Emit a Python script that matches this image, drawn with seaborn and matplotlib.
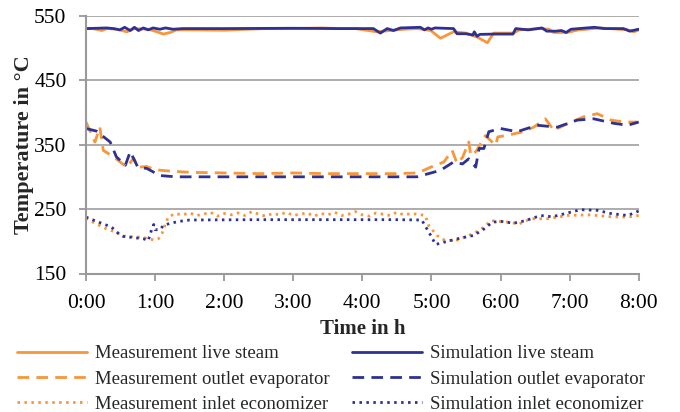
import matplotlib
matplotlib.use("Agg")
import matplotlib.pyplot as plt
import seaborn as sns
import pandas as pd
from matplotlib.lines import Line2D

sns.set_style("white")
plt.rcParams['font.family'] = ['Liberation Serif', 'DejaVu Serif']
plt.rcParams['mathtext.fontset'] = 'stix'

# ---------------- data (time in hours, temperature in degC) ----------------
ml_t = [0, 0.1, 0.23, 0.3, 0.45, 0.59, 0.7, 0.9, 1.0, 1.12, 1.22, 1.31, 1.6, 2.0, 2.23, 2.6, 3.0, 3.4,
        3.68, 3.9, 4.21, 4.4, 4.6, 4.8, 4.99, 5.13, 5.32, 5.5, 5.66, 5.81, 5.9, 6.19, 6.27, 6.58, 6.7,
        6.77, 6.97, 7.13, 7.45, 7.84, 7.93, 8.0]
ml_v = [530, 530, 527, 530, 529, 525, 530, 529, 526, 521.5, 524, 528, 528, 527.5, 528.5, 530, 530, 531,
        530, 530, 525, 527, 529, 530, 527, 515, 525, 523, 517, 508, 523, 523, 528, 530, 529,
        524, 524, 528, 531, 528, 525, 528]

sl_t = [0, 0.3, 0.4, 0.49, 0.56, 0.64, 0.7, 0.76, 0.83, 0.9, 0.97, 1.07, 1.15, 1.26, 1.4, 2.0, 3.0,
        3.68, 4.16, 4.26, 4.36, 4.45, 4.55, 4.84, 4.9, 4.95, 5.0, 5.05, 5.32, 5.37, 5.5, 5.6, 5.62,
        5.66, 5.7, 5.9, 6.18, 6.22, 6.4, 6.6, 6.67, 6.8, 6.88, 6.95, 7.02, 7.36, 7.5, 7.78, 7.87, 8.0]
sl_v = [530, 531, 530, 528, 532, 527, 532, 527, 531, 528, 531, 529, 531, 529, 530, 530, 530.5,
        530, 530, 523, 530, 527, 531, 532, 528, 531, 529, 531, 530, 522, 522, 520, 525,
        518, 521, 521.5, 521.5, 530, 528, 531, 526, 526, 527, 524, 529, 532, 530, 530, 526, 529]

me_t = [0, 0.13, 0.2, 0.25, 0.4, 0.59, 0.69, 0.75, 0.88, 1.0, 1.2, 1.5, 2.0, 2.5, 3.0, 3.5, 4.0, 4.5,
        4.8, 4.99, 5.18, 5.3, 5.37, 5.45, 5.54, 5.57, 5.65, 5.78, 5.93, 5.96, 6.08, 6.33, 6.48, 6.65,
        6.77, 6.92, 7.2, 7.4, 7.6, 7.79, 7.98]
me_v = [385, 354, 377, 341, 331, 315, 329, 315, 316, 311, 309, 307, 306, 305, 306, 305, 305, 305,
        306, 315, 323, 341, 321, 330, 354, 333, 340, 364, 349, 362, 364, 370, 377, 390,
        372, 380, 393, 398, 388, 385, 385]

se_t = [0, 0.15, 0.35, 0.44, 0.57, 0.64, 0.75, 0.88, 1.07, 1.3, 2.0, 3.0, 4.0, 4.79, 5.13, 5.32,
        5.45, 5.54, 5.64, 5.69, 5.76, 5.83, 6.0, 6.24, 6.53, 6.82, 7.11, 7.35, 7.64, 7.84, 8.0]
se_v = [375, 371, 354, 331, 318, 339, 315, 313, 302, 300, 300, 300, 300, 300, 310, 323,
        320, 328, 315, 344, 344, 370, 375, 370, 380, 377, 388, 390, 383, 380, 385]

mc_t = [0, 0.13, 0.3, 0.44, 0.54, 0.83, 0.98, 1.05, 1.1, 1.15, 1.19, 1.29,
        1.4, 1.5, 1.6, 1.7, 1.8, 1.9, 2.0, 2.1, 2.2, 2.3, 2.4, 2.5, 2.6, 2.7, 2.8, 2.9, 3.0,
        3.1, 3.2, 3.3, 3.4, 3.5, 3.6, 3.7, 3.8, 3.9, 4.0, 4.1, 4.2, 4.3, 4.4, 4.5, 4.6, 4.7,
        4.8, 4.91, 4.96, 5.08, 5.2, 5.37, 5.61, 5.72, 5.81, 5.86, 6.08, 6.27, 6.44, 6.68,
        6.97, 7.3, 7.6, 7.84, 8.0]
mc_v = [236, 228, 219, 214, 208, 206, 202, 204, 212, 227, 237.5, 243,
        241, 244, 240, 242, 245, 239, 243, 241, 244, 240, 246, 242, 239, 243, 241, 245, 240,
        242, 244, 239, 243, 241, 245, 240, 242, 246, 241, 239, 244, 242, 240, 245, 241, 243,
        242, 240, 224.5, 209, 201, 202, 212, 219, 227, 232, 230, 227, 235, 235,
        240, 241, 238, 237.5, 240]

sc_t = [0, 0.15, 0.37, 0.47, 0.54, 0.83, 0.9, 0.95, 0.98, 1.0, 1.07, 1.12, 1.22, 1.36, 1.5, 2.5,
        3.5, 4.5, 4.86, 4.99, 5.06, 5.18, 5.42, 5.61, 5.76, 5.88, 6.0, 6.19, 6.36, 6.58, 6.75,
        7.01, 7.16, 7.4, 7.6, 7.84, 8.0]
sc_v = [237.5, 231, 222, 212, 207.5, 204, 201, 218, 226, 218, 218, 224.5, 228, 231, 233, 233.5,
        233.5, 233.5, 233, 209, 195, 198.5, 205, 209, 219, 229.5, 231, 228, 232, 240, 238,
        245, 249, 248, 243, 240, 247]

labels = ["Measurement live steam", "Measurement outlet evaporator", "Measurement inlet economizer",
          "Simulation live steam", "Simulation outlet evaporator", "Simulation inlet economizer"]
y_ticks = [150, 250, 350, 450, 550]
x_ticks = list(range(9))
x_ticklabels = ["0:00", "1:00", "2:00", "3:00", "4:00", "5:00", "6:00", "7:00", "8:00"]

ORANGE = "#F7963A"
BLUE = "#2E3192"
SOLID = "-"
DASH = (0, (4.2, 2.6))
DOT = (0, (0.9, 1.6))
LW = 2.0

series = [
    (ml_t, ml_v, ORANGE, SOLID),
    (me_t, me_v, ORANGE, DASH),
    (mc_t, mc_v, ORANGE, DOT),
    (sl_t, sl_v, BLUE, SOLID),
    (se_t, se_v, BLUE, DASH),
    (sc_t, sc_v, BLUE, DOT),
]

fig = plt.figure(figsize=(6.8, 4.12), dpi=100)
ax = fig.add_axes([86 / 680, 1 - 273.5 / 412, (638.7 - 86) / 680, (273.5 - 15.7) / 412])

handles = []
for (t, v, c, ls), lab in zip(series, labels):
    df = pd.DataFrame({"t": t, "v": v})
    sns.lineplot(data=df, x="t", y="v", ax=ax, color=c, lw=LW, linestyle=ls, legend=False)
    handles.append(Line2D([], [], color=c, lw=LW, linestyle=ls))

ax.set_xlim(0, 8)
ax.set_ylim(150, 550)
ax.set_yticks(y_ticks)
ax.set_xticks(x_ticks)
ax.set_xticklabels(x_ticklabels)
ax.yaxis.grid(True, color="#A6A6A6", lw=1.3)
ax.set_axisbelow(True)
for s in ["top", "right"]:
    ax.spines[s].set_visible(False)
for s in ["left", "bottom"]:
    ax.spines[s].set_color("#999999")
    ax.spines[s].set_linewidth(1.5)
ax.tick_params(axis="both", which="major", direction="out", length=5, width=1.3,
               color="#999999", labelsize=15.5, colors="#999999", labelcolor="black",
               left=True, bottom=True)
ax.tick_params(axis="x", pad=10)
ax.tick_params(axis="y", pad=9)
ax.set_xlabel("Time in h", fontsize=15, fontweight="bold", labelpad=4)
ax.set_ylabel("Temperature in °C", fontsize=16, fontweight="bold", labelpad=0)

leg_kw = dict(frameon=False, fontsize=13.5, handlelength=3.75, handletextpad=0.4,
              labelspacing=0.44, borderpad=0, borderaxespad=0, loc="upper left")
l1 = fig.legend(handles[:3], labels[:3], bbox_to_anchor=(17 / 680, 1 - 345 / 412), **leg_kw)
l2 = fig.legend(handles[3:], labels[3:], bbox_to_anchor=(352 / 680, 1 - 345 / 412), **leg_kw)

fig.savefig("out.png", dpi=100)
